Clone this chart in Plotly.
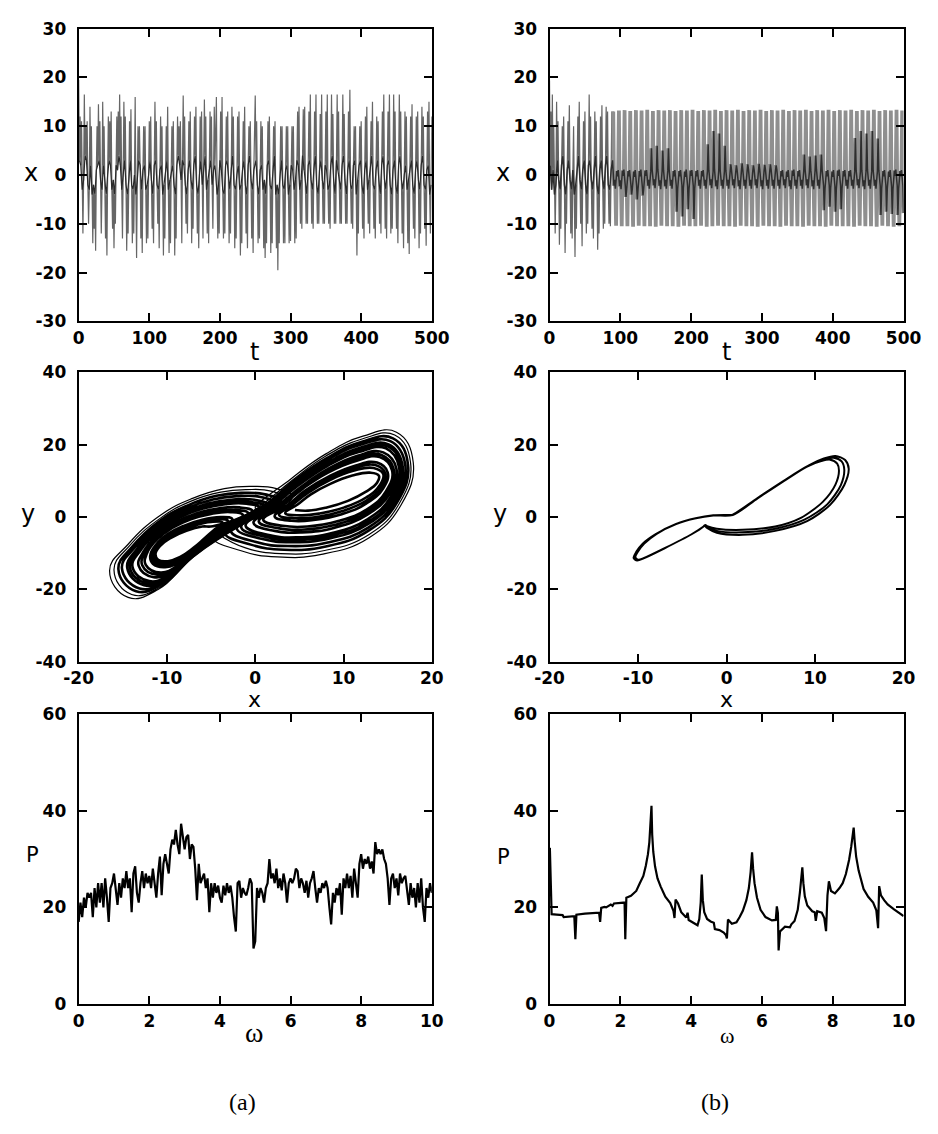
import numpy as np
import plotly.graph_objects as go

# ---------------- DATA ----------------
# (a) time series x(t), one sample per time unit (t = 0..500)
x_a = [
    19.5, 3, 12, 2, 11, -3, -12, -1, 16.5, 4,
    10, 3, 11, -2, -10, -3, 14, 2, 10, -4,
    -14, -2, -11, -4, -15.5, 1, 10, 2, 14.5, 3,
    11, -1, -12, -3, 15, 2, 10, -2, -13, -4,
    -16.5, 0, 12, 3, 11, 2, 13, -3, -11, -1,
    -15, -4, -10, 2, 12, 1, 13, 4, 16.5, 2,
    12, -3, -13, 0, 15, 3, 12, -2, -15.5, -4,
    -12, -1, 11, 3, 13.5, -2, -14, -3, -12, 0,
    16, -4, -17, -1, 10, 3, 10, 2, -13, -3,
    -16, 1, 10, 2, 10, -3, -14, -2, -13, 0,
    11, 3, 12, -1, -11, -4, -14, 2, 15, 3,
    11, -2, -10, -3, -15, 1, 12, 2, 10, -4,
    -16.5, -2, -13, 0, 10, 3, 14, -3, -16, -1,
    -14, 1, 10, 2, 11, -2, -16.5, -4, -13, 2,
    12, 4, 10, 2, 11, -1, -14, 3, 16.3, 2,
    12, -2, -10, -4, -12, 1, 11, 3, 13, -1,
    -14, -3, -11, 2, 12, 4, 14, -2, -12, -4,
    -15, 0, 12, 3, 13, -2, -13, 2, 15.5, 4,
    12, -3, -12, -1, -14, 2, 13, 3, 12, -2,
    -11, 1, 14, 2, 13, 16, -4, -13, -2, -12,
    3, 13, 1, 16, -3, -13, -4, -12, 2, 12,
    3, 13, -1, -14, -3, -12, 1, 14, 4, 12,
    -2, -15, -3, -13, 0, 12, 2, 13, -3, -16.5,
    -2, -14, 1, 11, 3, 14, -2, -12, -4, -15,
    2, 10, 4, 11, -1, -13, -3, -16, 1, 10,
    16.3, 3, 11, -2, -14, -4, -13, 1, 11, 2,
    10, -3, -15, -1, -17, -4, -14, 2, 11, 3,
    12, -2, -16, -3, -14, 1, 10, 4, 11, -4,
    -15, -2, -19.5, -4, -14, 0, 10, 3, 10, -2,
    -14, -3, -14, 1, 10, 2, 10, -4, -14, -2,
    -13.5, 2, 10, 1, 10, -3, -14, -1, -13, 3,
    13, 2, 14, -3, -10, -1, -11, 4, 13.5, 1,
    14, -2, -10, -4, -10, 2, 13, 3, 16.5, -1,
    -10, -3, -11, 1, 13, 4, 16.5, -2, -10, -4,
    -10, 1, 12.5, 3, 16.5, -1, -10, -3, -10, 2,
    13, 1, 16.5, -3, -10, -2, -11, 2, 16.5, 4,
    12.5, -1, -10, -4, -10, 3, 16.5, 1, 13, -2,
    -10, -3, -10, 2, 16.5, 4, 12.5, -1, -10, -4,
    -10, 1, 13, 3, 17.5, -2, -10, -3, -11, 2,
    10, 3, 10, -4, -16.5, -1, -12, 2, 10, 3,
    11, -2, -11, -4, -13, 1, 12, 3, 14, -3,
    -10, -1, -12, 2, 11, 4, 15, -2, -11, -3,
    -13, 1, 12, 3, 11, -1, -10, -4, -12, 2,
    13, 4, 16.5, -1, -11, -3, -13, 2, 13, 3,
    16.5, -2, -12, -4, -11, 1, 16.5, 3, 13, -2,
    -11, -4, -14, 2, 16.5, 4, 13, -1, -12, -3,
    -15, 0, 13, 2, 12, -3, -14, -1, -16.2, 2,
    12, 3, 14.5, -2, -11, -4, -13, 1, 12, 3,
    13, -1, -15, -3, -12, 2, 14, 4, 12, -2,
    -11, -3, -14.5, 1, 13, 2, 15, -4, -12, -2,
    12,
]

# (b) time series x(t), one sample per time unit (t = 0..500)
x_b = [
    19.4, 2, 13, -3, 16.5, 1, 10, -4, -12, -2,
    15, 3, 11, -1, -14.3, -3, -11, 2, 10, 4,
    12, -2, -16, -4, -10, 1, 11, 3, 14.3, -1,
    -12, -3, -13, 1, 10, -4, -16.8, -2, -11, 2,
    12, 4, 15, -1, -10, -3, -14.6, 1, 11, 3,
    13, -2, -12, -4, -10, 2, 16.5, 3, 12, -1,
    -11, -3, -13, 1, 13, 4, 11, -2, -15.3, -4,
    -12, 1, 12, 3, 14.3, -1, -11, -3, -10, 2,
    14, 4, 13, -2, -10, -3, -10.5, 1, 13, 3,
    13.0, -2.2, -1.0, -2.8, -10.4, 0.8, -0.3, 1.0,
    13.2, -2.3, -1.1, -2.9, -10.5, 0.9, -0.2, 1.1,
    13.3, -2.2, -4.5, -2.8, -10.5, 0.8, -0.3, 1.0,
    13.1, -2.1, -4.0, -2.7, -10.6, 0.7, -0.4, 1.0,
    13.3, -2.2, -5.0, -2.9, -10.4, 0.8, -0.3, 1.1,
    13.2, -2.3, -4.2, -2.8, -10.5, 0.9, -0.2, 1.0,
    13.4, -2.2, -1.0, -2.8, -10.5, 0.8, 5.5, 1.0,
    13.1, -2.1, -0.9, -2.7, -10.6, 0.7, 6.0, 1.1,
    13.3, -2.2, -1.1, -2.9, -10.4, 0.8, 5.0, 1.0,
    13.2, -2.3, -1.0, -2.8, -10.5, 0.9, 5.5, 1.0,
    13.3, -2.2, -1.0, -2.8, -10.5, 0.8, -0.3, 1.0,
    13.1, -2.2, -7.5, -2.8, -10.6, 0.8, -0.3, 1.0,
    13.3, -2.1, -8.5, -2.7, -10.4, 0.7, -0.4, 1.1,
    13.2, -2.3, -7.0, -2.9, -10.5, 0.9, -0.2, 1.0,
    13.4, -2.2, -9.0, -2.8, -10.5, 0.8, -0.3, 1.0,
    13.1, -2.2, -1.0, -2.8, -10.4, 0.8, -0.3, 1.0,
    13.3, -2.2, -1.0, -2.8, -10.6, 0.8, 6.3, 1.0,
    13.2, -2.1, -0.9, -2.7, -10.5, 0.7, 9.0, 1.1,
    13.4, -2.3, -1.1, -2.9, -10.4, 0.9, 8.5, 1.0,
    13.1, -2.2, -1.0, -2.8, -10.5, 0.8, 6.0, 1.0,
    13.3, -2.2, -1.0, -2.8, -10.5, 0.8, 2.2, 1.0,
    13.2, -2.1, -0.9, -2.7, -10.6, 0.7, 2.0, 0.9,
    13.4, -2.3, -1.1, -2.9, -10.4, 0.9, 2.4, 1.0,
    13.1, -2.2, -1.0, -2.8, -10.5, 0.8, 2.2, 1.1,
    13.3, -2.2, -1.0, -2.8, -10.5, 0.8, 2.0, 1.0,
    13.2, -2.1, -0.9, -2.7, -10.6, 0.7, 2.3, 0.9,
    13.4, -2.3, -1.1, -2.9, -10.4, 0.9, 2.1, 1.0,
    13.1, -2.2, -1.0, -2.8, -10.5, 0.8, 2.2, 1.0,
    13.3, -2.2, -1.0, -2.8, -10.5, 0.8, 2.0, 1.1,
    13.2, -2.2, -1.0, -2.8, -10.6, 0.8, -0.3, 1.0,
    13.4, -2.1, -0.9, -2.7, -10.4, 0.7, -0.4, 1.0,
    13.1, -2.3, -1.1, -2.9, -10.5, 0.9, -0.2, 1.1,
    13.3, -2.2, -1.0, -2.8, -10.5, 0.8, -0.3, 1.0,
    13.2, -2.2, -1.0, -2.8, -10.6, 0.8, 4.2, 1.0,
    13.4, -2.1, -0.9, -2.7, -10.4, 0.7, 3.8, 1.0,
    13.1, -2.3, -1.1, -2.9, -10.5, 0.9, 4.0, 1.1,
    13.3, -2.2, -1.0, -2.8, -10.5, 0.8, 4.2, 1.0,
    13.2, -2.2, -7.2, -2.8, -10.6, 0.8, -0.3, 1.0,
    13.4, -2.1, -6.5, -2.7, -10.4, 0.7, -0.4, 1.0,
    13.1, -2.3, -7.5, -2.9, -10.5, 0.9, -0.2, 1.1,
    13.3, -2.2, -7.0, -2.8, -10.5, 0.8, -0.3, 1.0,
    13.2, -2.2, -1.0, -2.8, -10.5, 0.8, -0.3, 1.0,
    13.4, -2.2, -1.0, -2.8, -10.6, 0.8, 7.6, 1.0,
    13.1, -2.1, -0.9, -2.7, -10.4, 0.7, 9.0, 1.0,
    13.3, -2.3, -1.1, -2.9, -10.5, 0.9, 8.5, 1.1,
    13.2, -2.2, -1.0, -2.8, -10.5, 0.8, 9.0, 1.0,
    13.4, -2.2, -1.0, -2.8, -10.6, 0.8, 7.5, 1.0,
    13.1, -2.2, -8.2, -2.8, -10.4, 0.8, -0.3, 1.0,
    13.3, -2.1, -7.5, -2.7, -10.5, 0.7, -0.4, 1.0,
    13.2, -2.3, -8.0, -2.9, -10.6, 0.9, -0.2, 1.1,
    13.4, -2.2, -8.2, -2.8, -10.5, 0.8, -0.3, 1.0,
    13.2, -2.2, -7.8,
]
B_SETTLE = 90  # sample index where (b) settles onto its periodic orbit

# (a) phase portrait: dense inner loops of the right and left lobes (x, y)
inner_loops_a = [
    # right lobe, from the hole outwards
    [(4.5, 2.0), (6.0, 1.8), (8.0, 2.6), (10.5, 4.5), (12.5, 7.0), (13.8, 9.5), (14.0, 11.5), (13.0, 12.3), (11.0, 11.5), (8.5, 9.2), (6.3, 6.3), (4.8, 3.5)],
    [(3.4, 1.1), (5.1, 0.5), (7.3, 1.0), (10.1, 2.7), (12.6, 5.5), (14.1, 8.8), (14.5, 11.9), (13.4, 13.6), (11.1, 12.8), (8.4, 10.2), (6.0, 6.8), (4.2, 3.4)],
    [(2.7, 0.6), (4.6, -0.3), (7.0, 0.0), (9.9, 1.7), (12.6, 4.6), (14.3, 8.3), (14.7, 12.2), (13.6, 14.4), (11.2, 13.6), (8.4, 10.8), (5.9, 7.1), (3.9, 3.3)],
    [(2.2, 0.2), (4.1, -1.0), (6.6, -0.8), (9.8, 0.8), (12.6, 3.8), (14.5, 8.0), (15.0, 12.4), (13.8, 15.1), (11.3, 14.2), (8.4, 11.3), (5.7, 7.4), (3.6, 3.3)],
    [(0.9, -0.7), (3.1, -2.4), (5.9, -2.6), (9.4, -1.1), (12.7, 2.2), (14.8, 7.1), (15.5, 12.9), (14.1, 16.6), (11.5, 15.6), (8.3, 12.4), (5.4, 7.9), (3.0, 3.1)],
    [(0.4, -1.2), (2.7, -3.1), (5.6, -3.4), (9.2, -2.0), (12.7, 1.4), (15.0, 6.8), (15.7, 13.1), (14.3, 17.2), (11.5, 16.3), (8.3, 12.9), (5.3, 8.2), (2.7, 3.1)],
    [(-0.2, -1.6), (2.2, -3.8), (5.3, -4.2), (9.0, -2.9), (12.7, 0.7), (15.2, 6.4), (16.0, 13.3), (14.5, 17.9), (11.6, 17.0), (8.3, 13.4), (5.2, 8.4), (2.4, 3.0)],
    [(-1.1, -2.3), (1.4, -4.9), (4.7, -5.6), (8.7, -4.4), (12.7, -0.6), (15.4, 5.8), (16.3, 13.7), (14.8, 19.0), (11.7, 18.0), (8.2, 14.2), (4.9, 8.8), (1.9, 2.9)],
    [(-1.6, -2.7), (1.1, -5.4), (4.4, -6.2), (8.6, -5.1), (12.8, -1.3), (15.6, 5.5), (16.5, 13.8), (15.0, 19.6), (11.8, 18.6), (8.2, 14.6), (4.8, 9.0), (1.7, 2.9)],
    [(-2.1, -3.0), (0.7, -6.0), (4.2, -6.9), (8.4, -5.9), (12.8, -1.9), (15.7, 5.2), (16.7, 14.0), (15.1, 20.1), (11.8, 19.1), (8.2, 15.0), (4.7, 9.2), (1.4, 2.8)],
    [(-2.8, -3.6), (0.1, -6.9), (3.7, -8.0), (8.2, -7.0), (12.8, -2.9), (15.9, 4.7), (17.0, 14.3), (15.3, 21.0), (11.9, 20.0), (8.1, 15.7), (4.5, 9.6), (1.1, 2.7)],
    [(-3.5, -4.1), (-0.5, -7.6), (3.3, -9.0), (8.0, -8.1), (12.8, -3.8), (16.1, 4.2), (17.3, 14.6), (15.6, 21.8), (12.0, 20.8), (8.1, 16.3), (4.3, 9.9), (0.7, 2.7)],
    # left lobe, from the hole outwards
    [(-4.8, -2.5), (-6.0, -2.6), (-7.8, -3.8), (-9.6, -5.8), (-10.8, -8.0), (-11.3, -10.2), (-11.0, -11.8), (-9.9, -12.2), (-8.5, -11.0), (-7.0, -8.5), (-5.8, -6.0), (-4.8, -3.8)],
    [(-3.7, -1.5), (-5.0, -1.3), (-6.9, -2.3), (-8.9, -4.2), (-10.4, -6.4), (-11.2, -8.9), (-11.4, -11.3), (-10.7, -12.5), (-9.2, -12.3), (-7.5, -9.9), (-5.9, -6.6), (-4.3, -3.5)],
    [(-3.1, -1.0), (-4.4, -0.6), (-6.4, -1.5), (-8.4, -3.2), (-10.1, -5.5), (-11.2, -8.2), (-11.7, -11.0), (-11.2, -12.7), (-9.6, -13.1), (-7.8, -10.7), (-6.0, -7.0), (-4.1, -3.4)],
    [(-2.6, -0.5), (-3.9, 0.0), (-6.0, -0.7), (-8.1, -2.4), (-9.9, -4.7), (-11.2, -7.5), (-11.9, -10.7), (-11.6, -12.9), (-10.0, -13.8), (-8.0, -11.4), (-6.1, -7.3), (-3.9, -3.2)],
    [(-1.4, 0.6), (-2.8, 1.4), (-5.0, 0.9), (-7.3, -0.6), (-9.4, -3.0), (-11.1, -6.1), (-12.3, -10.2), (-12.4, -13.2), (-10.7, -15.3), (-8.5, -12.9), (-6.3, -7.9), (-3.4, -2.9)],
    [(-0.8, 1.1), (-2.3, 2.0), (-4.6, 1.6), (-6.9, 0.2), (-9.2, -2.2), (-11.0, -5.5), (-12.5, -9.9), (-12.8, -13.3), (-11.1, -15.9), (-8.8, -13.6), (-6.3, -8.2), (-3.1, -2.8)],
    [(-0.3, 1.6), (-1.8, 2.7), (-4.2, 2.4), (-6.6, 1.1), (-9.0, -1.4), (-11.0, -4.8), (-12.7, -9.7), (-13.2, -13.5), (-11.5, -16.6), (-9.0, -14.3), (-6.4, -8.5), (-2.9, -2.7)],
    [(0.6, 2.4), (-1.0, 3.7), (-3.4, 3.6), (-5.9, 2.4), (-8.6, -0.1), (-10.9, -3.7), (-13.0, -9.2), (-13.9, -13.8), (-12.0, -17.7), (-9.4, -15.4), (-6.5, -9.0), (-2.5, -2.4)],
    [(1.1, 2.8), (-0.5, 4.2), (-3.1, 4.2), (-5.6, 3.1), (-8.4, 0.6), (-10.9, -3.2), (-13.2, -9.0), (-14.2, -13.9), (-12.3, -18.3), (-9.6, -16.0), (-6.6, -9.3), (-2.3, -2.3)],
    [(1.5, 3.2), (-0.1, 4.8), (-2.7, 4.8), (-5.3, 3.8), (-8.2, 1.2), (-10.9, -2.6), (-13.4, -8.8), (-14.5, -14.0), (-12.6, -18.8), (-9.8, -16.6), (-6.6, -9.5), (-2.1, -2.2)],
    [(2.2, 3.8), (0.6, 5.6), (-2.1, 5.8), (-4.8, 4.9), (-7.9, 2.3), (-10.8, -1.8), (-13.7, -8.5), (-15.1, -14.2), (-13.1, -19.7), (-10.1, -17.5), (-6.7, -9.9), (-1.8, -2.0)],
    [(2.9, 4.4), (1.1, 6.3), (-1.6, 6.7), (-4.4, 5.9), (-7.7, 3.2), (-10.8, -1.0), (-13.9, -8.1), (-15.5, -14.4), (-13.5, -20.5), (-10.4, -18.3), (-6.8, -10.3), (-1.6, -1.8)],
]
# (a) phase portrait: sparse outermost loops (x, y)
outer_loops_a = [
    [(-4.2, -4.7), (-1.1, -8.5), (2.9, -10.1), (7.7, -9.3), (12.9, -4.8), (16.3, 3.7), (17.6, 14.9), (15.8, 22.7), (12.1, 21.6), (8.0, 16.9), (4.2, 10.2), (0.3, 2.6)],
    [(-4.9, -5.2), (-1.6, -9.3), (2.5, -11.0), (7.5, -10.3), (12.9, -5.7), (16.5, 3.3), (17.9, 15.1), (16.0, 23.5), (12.2, 22.4), (8.0, 17.5), (4.0, 10.5), (0.0, 2.5)],
    [(3.6, 5.0), (1.8, 7.2), (-1.0, 7.6), (-3.9, 6.9), (-7.4, 4.3), (-10.7, -0.2), (-14.2, -7.8), (-16.0, -14.6), (-14.0, -21.4), (-10.7, -19.2), (-6.9, -10.7), (-1.3, -1.7)],
    [(4.2, 5.6), (2.4, 7.9), (-0.5, 8.5), (-3.5, 7.9), (-7.1, 5.2), (-10.7, 0.6), (-14.4, -7.5), (-16.5, -14.8), (-14.4, -22.2), (-11.0, -20.0), (-7.0, -11.0), (-1.0, -1.5)],
]

# (b) phase portrait: three passes around the limit cycle (x, y)
cycle_b = [
    [(0.7, 0.6), (3.5, 5.2), (6.5, 10.0), (9.3, 14.3), (11.0, 16.2), (12.3, 16.9), (13.4, 15.8), (13.8, 13.4), (13.3, 8.9), (11.7, 3.4), (9.1, -1.1), (5.5, -3.8), (1.8, -4.9), (-1.1, -4.3), (-2.2, -3.0), (-2.5, -2.3), (-2.6, -2.6), (-4.0, -4.8), (-7.0, -8.6), (-9.3, -11.3), (-10.1, -12.0), (-10.5, -11.3), (-10.2, -9.6), (-9.5, -7.4), (-8.0, -4.7), (-5.8, -2.0), (-3.6, -0.4), (-1.5, 0.45), (0.3, 0.55)],
    [(0.7, 0.7), (3.5, 5.3), (6.5, 10.1), (9.2, 14.2), (10.9, 15.9), (12.1, 16.4), (13.0, 15.4), (13.3, 13.1), (12.9, 8.8), (11.4, 3.6), (8.8, -0.7), (5.5, -3.2), (1.8, -4.2), (-1.1, -3.8), (-2.2, -2.8), (-2.5, -2.3), (-2.6, -2.6), (-4.0, -4.8), (-7.0, -8.6), (-9.3, -11.3), (-10.0, -11.8), (-10.3, -11.1), (-10.0, -9.5), (-9.3, -7.3), (-7.9, -4.6), (-5.7, -1.9), (-3.5, -0.3), (-1.5, 0.5), (0.3, 0.6)],
    [(0.7, 0.7), (3.5, 5.3), (6.5, 10.1), (9.1, 14.0), (10.7, 15.5), (11.7, 15.9), (12.5, 14.8), (12.7, 12.8), (12.3, 9.0), (10.9, 4.3), (8.4, -0.2), (5.5, -2.6), (1.8, -3.5), (-1.1, -3.2), (-2.1, -2.6), (-2.4, -2.2), (-2.6, -2.6), (-4.0, -4.8), (-7.0, -8.6), (-9.3, -11.3), (-10.1, -12.0), (-10.5, -11.3), (-10.2, -9.6), (-9.5, -7.4), (-8.0, -4.7), (-5.8, -2.0), (-3.6, -0.4), (-1.5, 0.45), (0.7, 0.6)],
]

# (a) power spectrum P(omega), omega = 0..10 in steps of 0.05
P_a = [
    17, 21, 18, 22, 20, 23, 22, 23, 18, 24,
    20, 25, 21, 25, 20, 26, 22, 17, 24, 25,
    27, 23, 20.5, 25, 22, 26, 24, 27.5, 24, 26,
    19, 27, 28.5, 23, 21, 25, 27.5, 24, 27, 25,
    26.5, 24, 28, 25, 22, 27, 30.5, 22.5, 29, 31,
    29, 27, 32, 34, 33, 36, 33, 31, 37.3, 34,
    32, 34.5, 35, 30, 33, 32.5, 28, 21.5, 29, 25,
    26, 27, 24, 26, 19, 25, 22, 25, 23, 24.5,
    22, 21, 24.5, 22.5, 25, 23, 24.5, 22, 18, 15,
    25, 25.5, 22, 24, 23, 22.5, 24, 26, 25, 11.5,
    13, 24, 22, 24, 23, 21, 24, 25, 30, 26,
    27, 25, 28, 24, 26, 23.5, 27, 25, 21, 25,
    26, 25, 26, 28, 27.5, 24, 26, 25, 23, 25.5,
    22, 25, 26, 27.5, 24, 21, 24, 23, 25, 24,
    25.5, 24, 20, 16.5, 23, 21, 24, 22.5, 25, 18.5,
    26, 24, 27, 24, 26.5, 22, 28, 25, 22, 29,
    31, 28, 30, 29, 30.5, 28, 29.5, 27, 33.5, 31,
    32, 31, 32, 30, 29, 26, 20.5, 26, 27, 24,
    26, 22.5, 27, 25, 26, 26.5, 23, 20.5, 25, 22,
    24, 20, 25, 21, 26, 20, 17, 24, 22, 25,
    23,
]

# (b) power spectrum
omega_b = [0.01, 0.06, 0.2, 0.37, 0.40, 0.6, 0.70, 0.73, 0.76, 1.0, 1.2, 1.40, 1.43, 1.46, 1.55, 1.6, 1.73, 1.78, 1.82, 2.0,
           2.12, 2.14, 2.17, 2.30, 2.45, 2.55, 2.65, 2.72, 2.78, 2.82, 2.85, 2.88, 2.90, 2.93, 2.98, 3.05, 3.14, 3.27, 3.41, 3.50,
           3.53, 3.56, 3.63, 3.72, 3.86, 3.90, 3.93, 4.05, 4.18, 4.23, 4.27, 4.30, 4.33, 4.37, 4.45, 4.55, 4.64, 4.67, 4.80, 4.92,
           4.98, 5.01, 5.04, 5.15, 5.28, 5.37, 5.46, 5.56, 5.63, 5.68, 5.72, 5.75, 5.79, 5.86, 5.96, 6.10, 6.28, 6.39, 6.42, 6.45,
           6.47, 6.51, 6.65, 6.79, 6.83, 6.92, 7.01, 7.07, 7.11, 7.14, 7.17, 7.21, 7.28, 7.42, 7.49, 7.52, 7.56, 7.69, 7.76, 7.81,
           7.85, 7.89, 7.95, 8.06, 8.19, 8.28, 8.37, 8.46, 8.52, 8.56, 8.59, 8.62, 8.66, 8.73, 8.87, 9.00, 9.14, 9.23, 9.26, 9.28,
           9.31, 9.36, 9.45, 9.55, 9.73, 9.85, 10.0]
P_b = [32.3, 18.6, 18.5, 18.4, 18.0, 18.1, 18.2, 13.4, 18.5, 18.7, 18.8, 18.9, 17.0, 19.9, 20.1, 20.0, 20.6, 20.3, 20.8, 20.9,
       21.0, 13.4, 22.0, 22.4, 23.4, 25.0, 26.5, 28.6, 31.0, 33.5, 36.5, 41.0, 35.0, 31.5, 28.5, 26.0, 24.3, 22.2, 20.9, 19.3,
       17.8, 21.6, 20.8, 19.0, 17.9, 18.9, 17.4, 16.8, 16.3, 17.6, 21.0, 26.8, 21.5, 19.0, 17.6, 17.1, 16.8, 15.5, 15.3, 14.8,
       14.3, 13.6, 17.5, 16.6, 16.9, 18.0, 19.3, 21.5, 24.0, 27.3, 31.4, 28.0, 25.0, 22.0, 19.5, 18.0, 17.3, 17.4, 20.2, 18.8,
       11.1, 15.0, 16.0, 15.9, 16.5, 17.2, 19.5, 23.0, 25.5, 28.3, 25.0, 22.3, 20.4, 19.2, 19.0, 17.2, 19.2, 18.9, 17.8, 15.1,
       22.5, 25.4, 23.4, 22.9, 24.0, 25.0, 26.9, 29.8, 32.5, 34.8, 36.5, 33.5, 30.5, 27.6, 23.8, 22.2, 21.0, 19.4, 17.8, 15.7,
       24.4, 22.5, 21.5, 20.6, 19.6, 18.9, 18.2]

# axis ticks
t_ticks = [0, 100, 200, 300, 400, 500]
x_ticks = [-30, -20, -10, 0, 10, 20, 30]
px_ticks = [-20, -10, 0, 10, 20]
py_ticks = [-40, -20, 0, 20, 40]
w_ticks = [0, 2, 4, 6, 8, 10]
P_ticks = [0, 20, 40, 60]

# ---------------- FIGURE ----------------
W, H = 938, 1134
t_a = np.arange(len(x_a), dtype=float)
t_b = np.arange(len(x_b), dtype=float)
omega_a = np.linspace(0, 10, len(P_a))

t_b_tr, x_b_tr = t_b[:B_SETTLE + 1], x_b[:B_SETTLE + 1]
t_b_per, x_b_per = t_b[B_SETTLE:], x_b[B_SETTLE:]
# samples passing through the middle of each swing (the slow passages, drawn darker)
x_a_core = [v if -5 <= v <= 5 else None for v in x_a]
x_b_core = [v if -9.5 <= v <= 9.5 else None for v in x_b]


def flat(loops, k):
    return [p[k] for loop in loops for p in loop]


fig = go.Figure()
fig.add_trace(go.Scatter(x=t_a, y=x_a, mode="lines", line=dict(color="#666666", width=1.2), xaxis="x", yaxis="y"))
fig.add_trace(go.Scatter(x=t_a, y=x_a_core, mode="lines", line=dict(color="#2a2a2a", width=1.2),
                         connectgaps=True, xaxis="x", yaxis="y"))
fig.add_trace(go.Scatter(x=t_b_tr, y=x_b_tr, mode="lines", line=dict(color="#666666", width=1.2), xaxis="x2", yaxis="y2"))
fig.add_trace(go.Scatter(x=t_b_per, y=x_b_per, mode="lines", line=dict(color="#8f8f8f", width=3.8), xaxis="x2", yaxis="y2"))
fig.add_trace(go.Scatter(x=t_b, y=x_b_core, mode="lines", line=dict(color="#2e2e2e", width=1.5),
                         connectgaps=True, xaxis="x2", yaxis="y2"))
fig.add_trace(go.Scatter(x=flat(inner_loops_a, 0), y=flat(inner_loops_a, 1), mode="lines",
                         line=dict(color="black", width=2.6, shape="spline", smoothing=1.3), xaxis="x3", yaxis="y3"))
fig.add_trace(go.Scatter(x=flat(outer_loops_a, 0), y=flat(outer_loops_a, 1), mode="lines",
                         line=dict(color="black", width=1.2, shape="spline", smoothing=1.3), xaxis="x3", yaxis="y3"))
fig.add_trace(go.Scatter(x=flat(cycle_b, 0), y=flat(cycle_b, 1), mode="lines",
                         line=dict(color="black", width=2.0, shape="spline", smoothing=0.8), xaxis="x4", yaxis="y4"))
fig.add_trace(go.Scatter(x=omega_a, y=P_a, mode="lines", line=dict(color="black", width=2.2), xaxis="x5", yaxis="y5"))
fig.add_trace(go.Scatter(x=omega_b, y=P_b, mode="lines", line=dict(color="black", width=2.2), xaxis="x6", yaxis="y6"))

colL = [66 / W, 432 / W]
colR = [554 / W, 921 / W]
row1 = [1 - 317 / H, 1 - 19 / H]
row2 = [1 - 663.5 / H, 1 - 369 / H]
row3 = [1 - 1012 / H, 1 - 716.5 / H]

tickfont = dict(family="DejaVu Sans", size=17, color="black", weight="bold")


def ax(domain, rng, ticks, anchor, standoff):
    return dict(domain=domain, range=rng, tickvals=ticks, ticktext=[str(v) for v in ticks],
                showline=True, linecolor="black", linewidth=2, mirror="ticks",
                ticks="inside", ticklen=8, tickwidth=2, tickcolor="black",
                showgrid=False, zeroline=False, tickfont=tickfont, anchor=anchor,
                ticklabelstandoff=standoff)


fig.update_layout(
    width=W, height=H, margin=dict(l=0, r=0, t=0, b=0),
    paper_bgcolor="white", plot_bgcolor="white", showlegend=False,
    xaxis=ax(colL, [0, 500], t_ticks, "y", 0), yaxis=ax(row1, [-30, 30], x_ticks, "x", 7),
    xaxis2=ax(colR, [0, 500], t_ticks, "y2", 0), yaxis2=ax(row1, [-30, 30], x_ticks, "x2", 7),
    xaxis3=ax(colL, [-20, 20], px_ticks, "y3", 0), yaxis3=ax(row2, [-40, 40], py_ticks, "x3", 7),
    xaxis4=ax(colR, [-20, 20], px_ticks, "y4", 0), yaxis4=ax(row2, [-40, 40], py_ticks, "x4", 7),
    xaxis5=ax(colL, [0, 10], w_ticks, "y5", 0), yaxis5=ax(row3, [0, 60], P_ticks, "x5", 7),
    xaxis6=ax(colR, [0, 10], w_ticks, "y6", 0), yaxis6=ax(row3, [0, 60], P_ticks, "x6", 7),
)

sans = dict(family="DejaVu Sans", size=24, color="black")
sans_sm = dict(family="DejaVu Sans", size=22, color="black")
labels = [
    ("x", 16.7, 166, sans), ("t", 248, 348, sans),
    ("x", 505.5, 166, sans), ("t", 737.7, 348, sans),
    ("y", 13.3, 513, sans), ("x", 248, 702, sans_sm),
    ("y", 502.5, 513, sans), ("x", 737.7, 702, sans_sm),
    ("P", 18, 860, dict(family="DejaVu Sans", size=21, color="black")),
    ("ω", 248, 1041, dict(family="Liberation Serif", size=28, color="black")),
    ("P", 506, 862, dict(family="DejaVu Sans", size=21, color="black")),
    ("ω", 737.7, 1044, dict(family="Liberation Serif", size=22, color="black")),
    ("(a)", 236, 1112, dict(family="Liberation Serif", size=24, color="black")),
    ("(b)", 726, 1112, dict(family="Liberation Serif", size=24, color="black")),
]
for text, x, y, font in labels:
    fig.add_annotation(text=text, x=x / W, y=1 - y / H, xref="paper", yref="paper",
                       xanchor="center", yanchor="middle", showarrow=False, font=font)

fig.write_html("out.html")
